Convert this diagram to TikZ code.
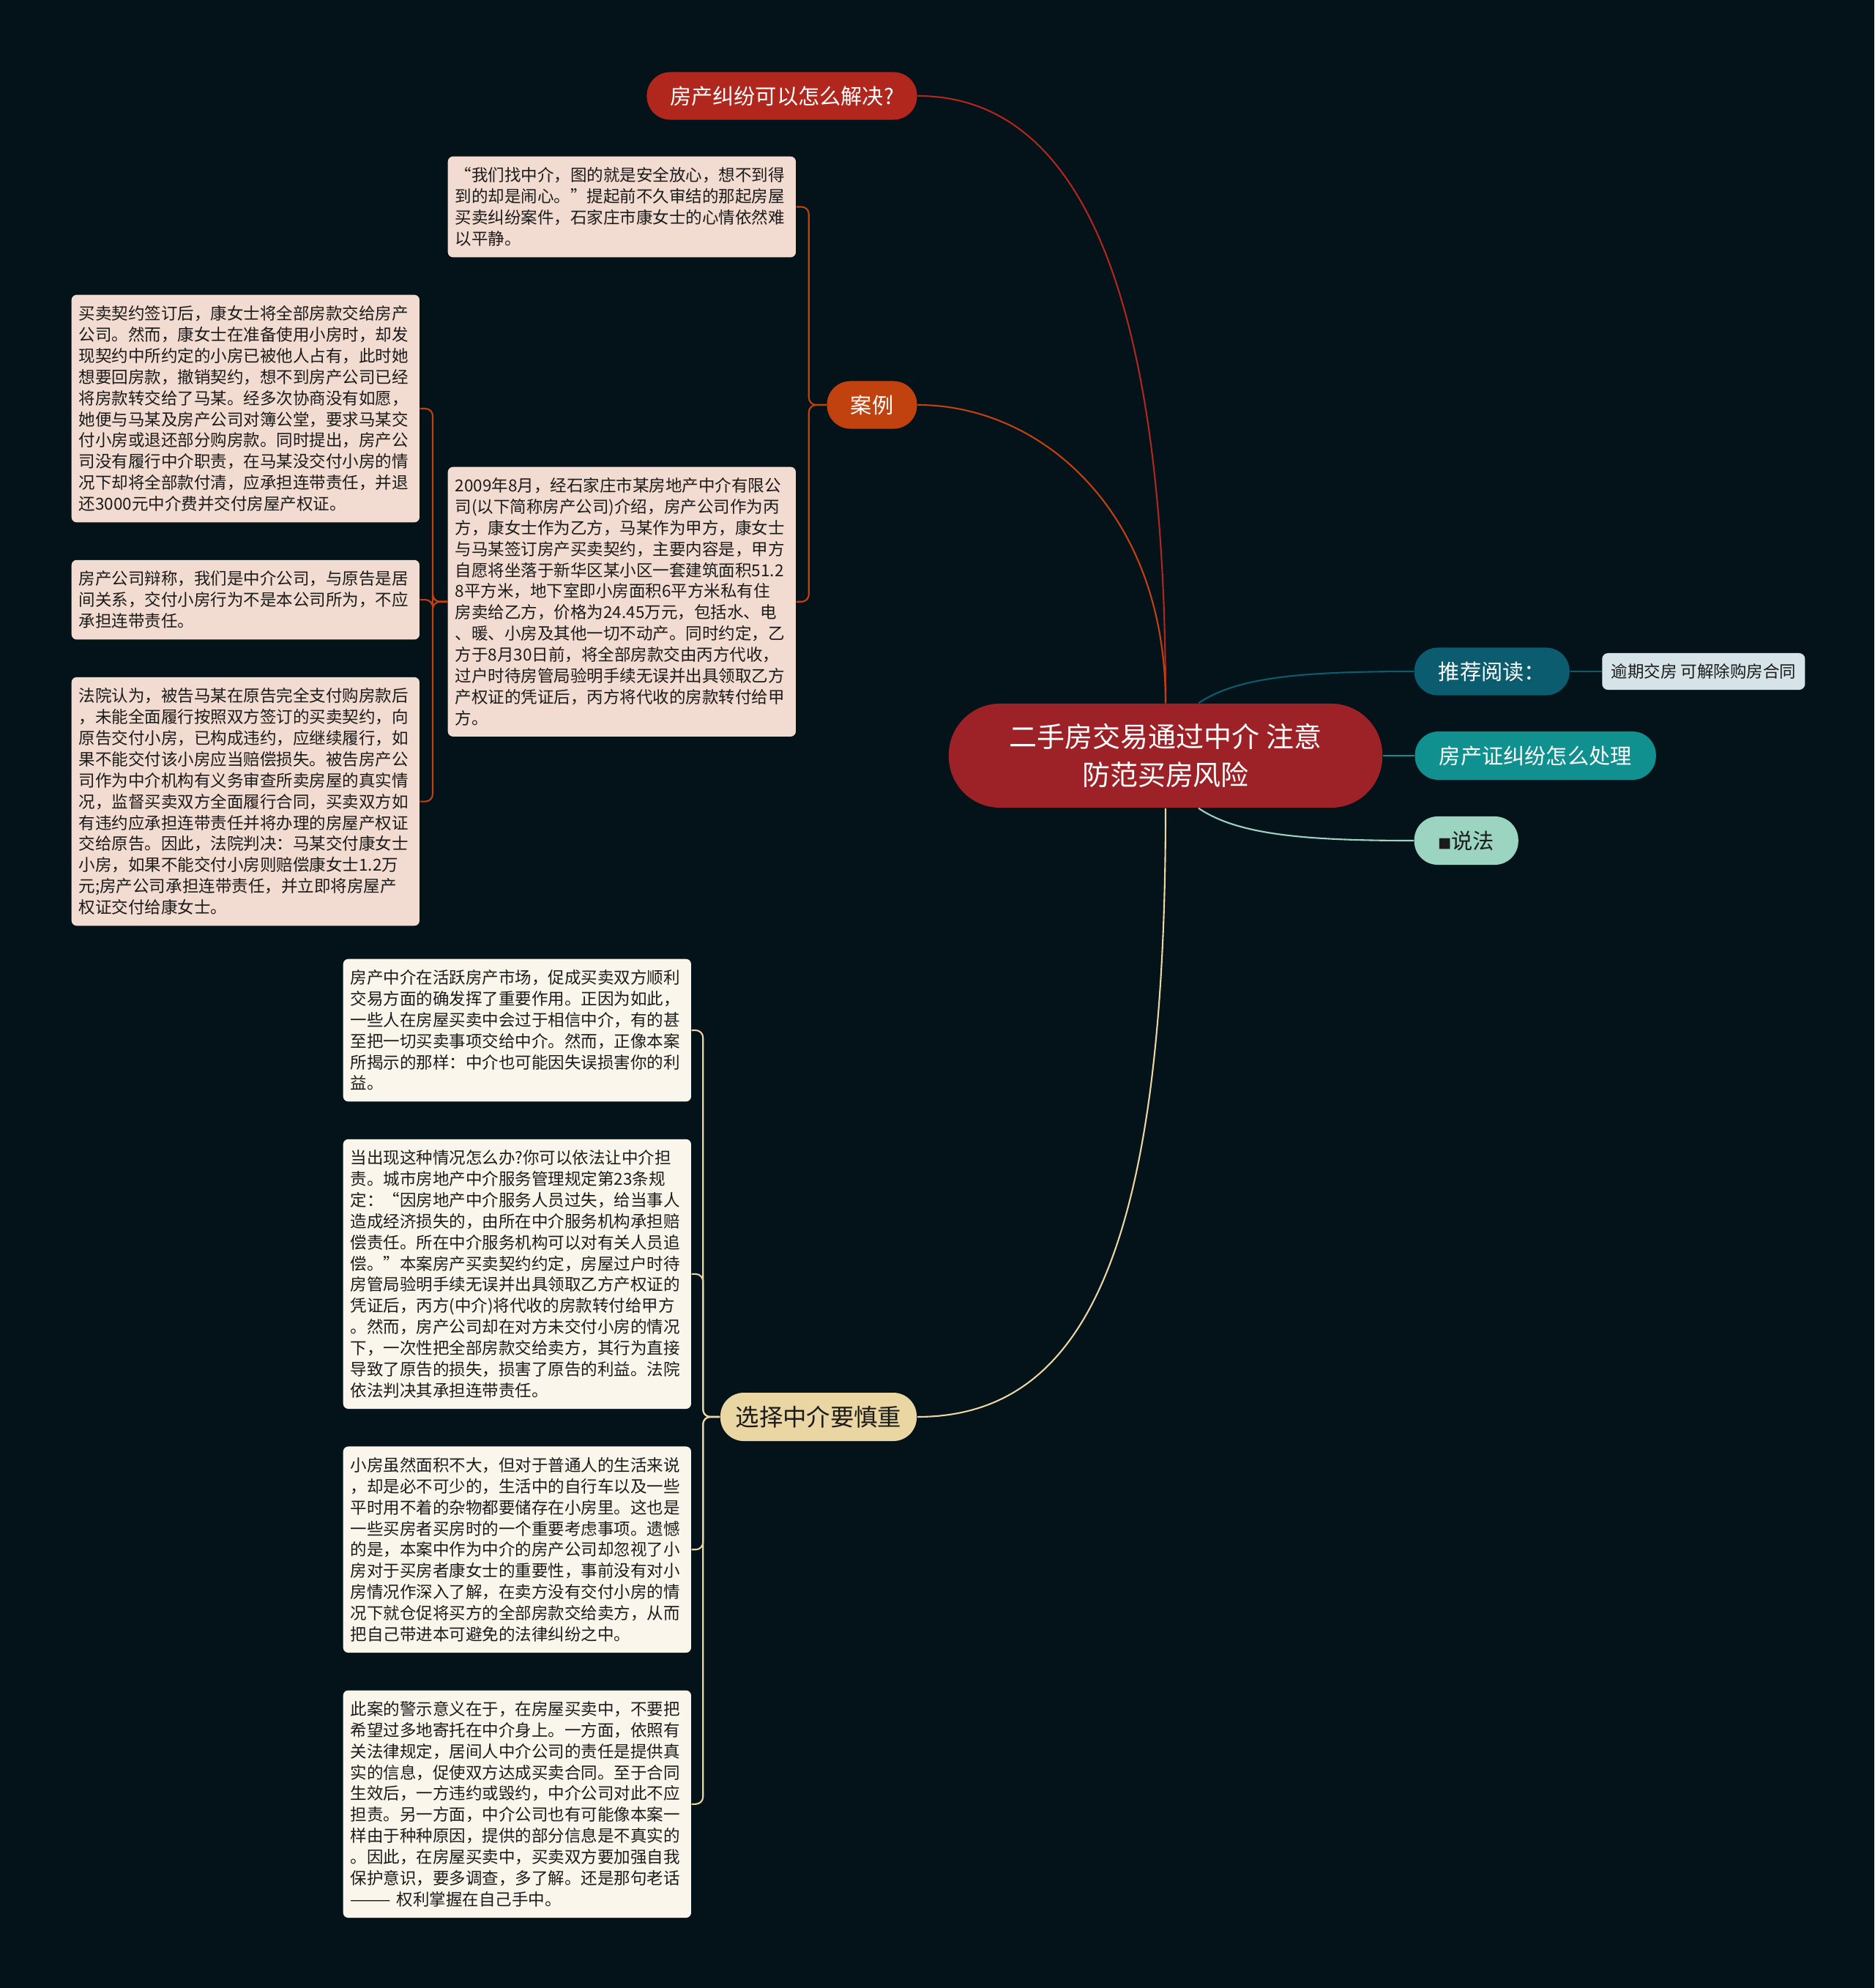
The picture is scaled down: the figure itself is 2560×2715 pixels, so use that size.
\documentclass[tikz,border=0pt]{standalone}
\usepackage{fontspec}
\setmainfont{Noto Sans CJK SC}
\usetikzlibrary{positioning}

\definecolor{bgdark}{HTML}{04121A}
\definecolor{rootred}{HTML}{9C2227}
\definecolor{askred}{HTML}{B1261D}
\definecolor{caseorange}{HTML}{C2420F}
\definecolor{casebox}{HTML}{F2DBD0}
\definecolor{tipcream}{HTML}{E9D6A2}
\definecolor{tipbox}{HTML}{FBF6EC}
\definecolor{readteal}{HTML}{0B5C6E}
\definecolor{certteal}{HTML}{10908F}
\definecolor{lawmint}{HTML}{9BD5C2}
\definecolor{linkgray}{HTML}{D6E3E9}
\definecolor{inkdark}{HTML}{1B1B1B}

\begin{document}
\begin{tikzpicture}[
            x=0.01cm, y=-0.01cm,
            pill/.style={rectangle, rounded corners=0.32cm, minimum height=0.65cm, inner sep=0pt, align=center, font=\fontsize{8.3pt}{10pt}\selectfont},
            para/.style={rectangle, rounded corners=0.07cm, text width=4.55cm, inner xsep=0.1cm, inner ysep=0.15cm, align=left, text=inkdark, font=\fontsize{6.4pt}{8.2pt}\selectfont},
            branch/.style={line width=0.6pt},
            joint/.style={line width=0.6pt, rounded corners=0.1cm}
        ]
        \fill[bgdark] (0,0) rectangle (2560,2715);
        \useasboundingbox (0,0) rectangle (2560,2715);

        \node[pill, fill=rootred, text=white, minimum width=5.92cm, minimum height=1.42cm, rounded corners=0.7cm, font=\fontsize{10.8pt}{14.8pt}\selectfont] (root) at (1592,1032) {二手房交易通过中介 注意\\防范买房风险};
        \node[pill, fill=askred, text=white, minimum width=3.69cm] (ask) at (1068,131) {房产纠纷可以怎么解决?};
        \node[pill, fill=caseorange, text=white, minimum width=1.23cm] (case) at (1191,553) {案例};
        \node[pill, fill=tipcream, text=inkdark, minimum width=2.68cm, minimum height=0.66cm, font=\fontsize{9.2pt}{11pt}\selectfont] (tip) at (1118,1935) {选择中介要慎重};
        \node[pill, fill=readteal, text=white, minimum width=2.12cm, anchor=west] (read) at (1931,917) {推荐阅读：};
        \node[pill, fill=linkgray, text=inkdark, minimum width=2.77cm, minimum height=0.5cm, rounded corners=0.08cm, font=\fontsize{6.4pt}{8pt}\selectfont, right=0.43cm of read] (readlink) {逾期交房 可解除购房合同};
        \node[pill, fill=certteal, text=white, minimum width=3.29cm, minimum height=0.66cm, right=0.43cm of root] (cert) {房产证纠纷怎么处理};
        \node[pill, fill=lawmint, text=inkdark, minimum width=1.42cm, minimum height=0.66cm, anchor=west] (law) at (1931,1148) {{\fontsize{5.2pt}{6pt}\selectfont ■}说法};

        \node[para, fill=casebox, anchor=north west] (quote) at (611,213) {“我们找中介，图的就是安全放心，想不到得\\
到的却是闹心。”提起前不久审结的那起房屋\\
买卖纠纷案件，石家庄市康女士的心情依然难\\
以平静。};
        \node[para, fill=casebox, anchor=north west] (deal) at (611,637) {2009年8月，经石家庄市某房地产中介有限公\\
司(以下简称房产公司)介绍，房产公司作为丙\\
方，康女士作为乙方，马某作为甲方，康女士\\
与马某签订房产买卖契约，主要内容是，甲方\\
自愿将坐落于新华区某小区一套建筑面积51.2\\
8平方米，地下室即小房面积6平方米私有住\\
房卖给乙方，价格为24.45万元，包括水、电\\
、暖、小房及其他一切不动产。同时约定，乙\\
方于8月30日前，将全部房款交由丙方代收，\\
过户时待房管局验明手续无误并出具领取乙方\\
产权证的凭证后，丙方将代收的房款转付给甲\\
方。};
        \node[para, fill=casebox, anchor=north west] (claim) at (97,402) {买卖契约签订后，康女士将全部房款交给房产\\
公司。然而，康女士在准备使用小房时，却发\\
现契约中所约定的小房已被他人占有，此时她\\
想要回房款，撤销契约，想不到房产公司已经\\
将房款转交给了马某。经多次协商没有如愿，\\
她便与马某及房产公司对簿公堂，要求马某交\\
付小房或退还部分购房款。同时提出，房产公\\
司没有履行中介职责，在马某没交付小房的情\\
况下却将全部款付清，应承担连带责任，并退\\
还3000元中介费并交付房屋产权证。};
        \node[para, fill=casebox, below=0.5cm of claim] (plea) {房产公司辩称，我们是中介公司，与原告是居\\
间关系，交付小房行为不是本公司所为，不应\\
承担连带责任。};
        \node[para, fill=casebox, below=0.5cm of plea] (ruling) {法院认为，被告马某在原告完全支付购房款后\\
，未能全面履行按照双方签订的买卖契约，向\\
原告交付小房，已构成违约，应继续履行，如\\
果不能交付该小房应当赔偿损失。被告房产公\\
司作为中介机构有义务审查所卖房屋的真实情\\
况，监督买卖双方全面履行合同，买卖双方如\\
有违约应承担连带责任并将办理的房屋产权证\\
交给原告。因此，法院判决：马某交付康女士\\
小房，如果不能交付小房则赔偿康女士1.2万\\
元;房产公司承担连带责任，并立即将房屋产\\
权证交付给康女士。};

        \node[para, fill=tipbox, anchor=north west] (role) at (468,1309) {房产中介在活跃房产市场，促成买卖双方顺利\\
交易方面的确发挥了重要作用。正因为如此，\\
一些人在房屋买卖中会过于相信中介，有的甚\\
至把一切买卖事项交给中介。然而，正像本案\\
所揭示的那样：中介也可能因失误损害你的利\\
益。};
        \node[para, fill=tipbox, below=0.5cm of role] (remedy) {当出现这种情况怎么办?你可以依法让中介担\\
责。城市房地产中介服务管理规定第23条规\\
定：“因房地产中介服务人员过失，给当事人\\
造成经济损失的，由所在中介服务机构承担赔\\
偿责任。所在中介服务机构可以对有关人员追\\
偿。”本案房产买卖契约约定，房屋过户时待\\
房管局验明手续无误并出具领取乙方产权证的\\
凭证后，丙方(中介)将代收的房款转付给甲方\\
。然而，房产公司却在对方未交付小房的情况\\
下，一次性把全部房款交给卖方，其行为直接\\
导致了原告的损失，损害了原告的利益。法院\\
依法判决其承担连带责任。};
        \node[para, fill=tipbox, below=0.5cm of remedy] (storage) {小房虽然面积不大，但对于普通人的生活来说\\
，却是必不可少的，生活中的自行车以及一些\\
平时用不着的杂物都要储存在小房里。这也是\\
一些买房者买房时的一个重要考虑事项。遗憾\\
的是，本案中作为中介的房产公司却忽视了小\\
房对于买房者康女士的重要性，事前没有对小\\
房情况作深入了解，在卖方没有交付小房的情\\
况下就仓促将买方的全部房款交给卖方，从而\\
把自己带进本可避免的法律纠纷之中。};
        \node[para, fill=tipbox, below=0.5cm of storage] (lesson) {此案的警示意义在于，在房屋买卖中，不要把\\
希望过多地寄托在中介身上。一方面，依照有\\
关法律规定，居间人中介公司的责任是提供真\\
实的信息，促使双方达成买卖合同。至于合同\\
生效后，一方违约或毁约，中介公司对此不应\\
担责。另一方面，中介公司也有可能像本案一\\
样由于种种原因，提供的部分信息是不真实的\\
。因此，在房屋买卖中，买卖双方要加强自我\\
保护意识，要多调查，多了解。还是那句老话\\
——— 权利掌握在自己手中。};

        \draw[branch, askred] (root.north) .. controls +(0,-610) and +(200,0) .. (ask.east);
        \draw[branch, caseorange] (root.north) .. controls +(0,-260) and +(170,0) .. (case.east);
        \draw[branch, tipcream] (root.south) .. controls +(0,600) and +(230,0) .. (tip.east);
        \draw[branch, readteal] ([xshift=0.45cm]root.north) .. controls +(53,-36) and +(-151,0) .. (read.west);
        \draw[branch, certteal] (root.east) -- (cert.west);
        \draw[branch, lawmint] ([xshift=0.45cm]root.south) .. controls +(53,36) and +(-151,0) .. (law.west);
        \draw[branch, readteal] (read.east) -- (readlink.west);

        \draw[joint, caseorange] (case.west) -- ++(-24,0) |- (quote.east);
        \draw[joint, caseorange] (case.west) -- ++(-24,0) |- (deal.east);
        \draw[joint, caseorange] (deal.west) -- ++(-20,0) |- (claim.east);
        \draw[joint, caseorange] (deal.west) -- ++(-20,0) |- (plea.east);
        \draw[joint, caseorange] (deal.west) -- ++(-20,0) |- (ruling.east);
        \draw[joint, tipcream] (tip.west) -- ++(-23,0) |- (role.east);
        \draw[joint, tipcream] (tip.west) -- ++(-23,0) |- (remedy.east);
        \draw[joint, tipcream] (tip.west) -- ++(-23,0) |- (storage.east);
        \draw[joint, tipcream] (tip.west) -- ++(-23,0) |- (lesson.east);
    \end{tikzpicture}
\end{document}
